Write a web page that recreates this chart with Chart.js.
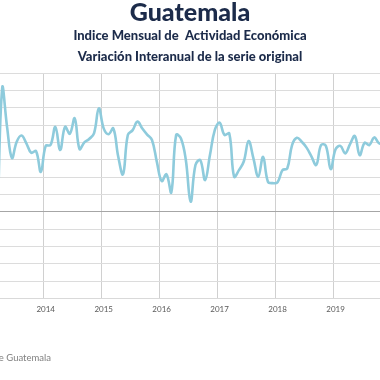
<!DOCTYPE html>
<html lang="es">
<head>
  <meta charset="UTF-8">
  <title>Guatemala - IMAE</title>
  <script src="https://cdn.jsdelivr.net/npm/chart.js"></script>
  <style>
    body { margin: 0; background: #fff; overflow: hidden; }
    #wrap { position: relative; width: 380px; height: 380px; }
    #fuente {
      position: absolute;
      right: 329px;
      top: 352px;
      white-space: nowrap;
      font-family: Lato, sans-serif;
      font-size: 9.5px;
      color: #808080;
    }
  </style>
</head>
<body>
  <div id="wrap">
    <canvas id="imae" width="380" height="380"></canvas>
    <div id="fuente">Fuente: Banco de Guatemala</div>
  </div>

  <script>
    // meses: desde marzo 2013 hasta noviembre 2019
    const firstYear = 2013, firstMonth = 3;
    // variación interanual (%)
    const values = [
      -1.0, 7.15, 4.9, 3.1, 4.04, 4.4, 3.95, 3.4, 3.5, 2.3,          // mar-dic 2013
      3.8, 3.85, 4.9, 3.56, 4.9, 4.5, 5.39, 3.62, 4.0, 4.2, 4.52, 5.97, // 2014
      4.81, 4.47, 4.81, 3.2, 2.16, 4.43, 4.71, 5.2, 4.8, 4.45, 4.14, 2.89, // 2015
      1.77, 2.16, 1.12, 4.43, 4.23, 3.0, 0.58, 2.7, 2.98, 1.83, 3.27, 4.71, // 2016
      5.14, 4.43, 4.52, 2.02, 2.4, 2.9, 4.08, 3.08, 2.02, 3.17, 1.73, 1.65, // 2017
      1.7, 2.4, 2.5, 3.85, 4.27, 4.04, 3.7, 3.2, 2.7, 3.85, 3.8, 2.46,   // 2018
      3.6, 3.8, 3.37, 3.9, 4.37, 3.27, 3.98, 3.85, 4.29, 3.95, 3.9      // 2019
    ];
    const yearLabels = ['2014', '2015', '2016', '2017', '2018', '2019'];

    // índice de mes relativo a enero 2014
    const startIdx = (firstYear - 2014) * 12 + (firstMonth - 1);
    const points = values.map((v, i) => ({ x: startIdx + i, y: v }));

    new Chart(document.getElementById('imae'), {
      type: 'line',
      data: {
        datasets: [{
          data: points,
          borderColor: '#8ecbdc',
          borderWidth: 2.6,
          pointRadius: 0,
          tension: 0.4,
          fill: false
        }]
      },
      options: {
        responsive: false,
        animation: false,
        layout: { padding: { left: 0, right: 0, top: 0, bottom: 60 } },
        plugins: {
          legend: { display: false },
          tooltip: { enabled: false },
          title: {
            display: true,
            text: 'Guatemala',
            color: '#1c2b4a',
            font: { family: 'Lato', size: 25, weight: 900, lineHeight: 1.0 },
            padding: { top: 0, bottom: 0 }
          },
          subtitle: {
            display: true,
            text: ['Indice Mensual de  Actividad Económica', 'Variación Interanual de la serie original'],
            color: '#1c2b4a',
            font: { family: 'Lato', size: 13, weight: 900, lineHeight: 1.62 },
            padding: { top: 0, bottom: 6 }
          }
        },
        scales: {
          x: {
            type: 'linear',
            min: -9.46,
            max: 69.2,
            afterBuildTicks: axis => {
              axis.ticks = yearLabels.map((y, k) => ({ value: k * 12 - 0.5 }));
            },
            grid: { color: '#d0d0d0', lineWidth: 1, drawTicks: false },
            border: { color: '#d9d9d9' },
            ticks: {
              padding: 6,
              labelOffset: 2.4,
              color: '#595959',
              font: { family: 'Lato', size: 8 },
              callback: (v) => yearLabels[Math.round((v + 0.5) / 12)]
            }
          },
          y: {
            min: -5,
            max: 8,
            ticks: { display: false, stepSize: 1 },
            grid: {
              drawTicks: false,
              tickLength: 0,
              color: ctx => ctx.tick && ctx.tick.value === 0 ? '#a6a6a6' : '#dcdcdc'
            },
            border: { display: false }
          }
        }
      }
    });
  </script>
</body>
</html>
